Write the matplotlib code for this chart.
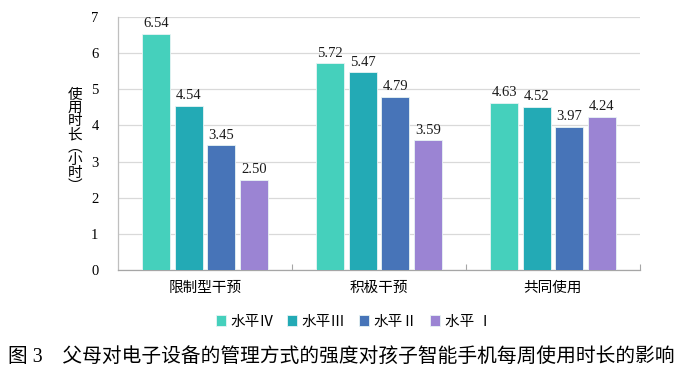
import matplotlib
matplotlib.use("Agg")
import matplotlib.pyplot as plt
import numpy as np

plt.rcParams['font.family'] = ['Liberation Serif', 'Noto Sans CJK SC', 'DejaVu Sans']

categories = ['限制型干预', '积极干预', '共同使用']
series_names = ['水平Ⅳ', '水平Ⅲ', '水平Ⅱ', '水平 Ⅰ']
values = [
    [6.54, 5.72, 4.63],
    [4.54, 5.47, 4.52],
    [3.45, 4.79, 3.97],
    [2.50, 3.59, 4.24],
]
colors = ['#45D0BC', '#23AAB5', '#4774B8', '#9B84D3']
yticks = [0, 1, 2, 3, 4, 5, 6, 7]
ylabel = '使用时长︵小时︶'
caption = '图 3　父母对电子设备的管理方式的强度对孩子智能手机每周使用时长的影响'

fig = plt.figure(figsize=(6.91, 3.75), dpi=100)
ax = fig.add_axes([118/691, 1 - 270/375, 522/691, 253/375])

x = np.arange(len(categories))
bw = 0.16
pitch = 0.187
for i, (name, vals) in enumerate(zip(series_names, values)):
    pos = x + (i - 1.5) * pitch
    bars = ax.bar(pos, vals, width=bw, color=colors[i], edgecolor='#E8F4F4',
                  linewidth=0.6, label=name, zorder=3)
    for b, v in zip(bars, vals):
        ax.text(b.get_x() + b.get_width() / 2, v + 0.1, f'{v:.2f}',
                ha='center', va='bottom', fontsize=10.5, color='#1a1a1a')

ax.set_xlim(-0.5, 2.5)
ax.set_ylim(0, 7)
ax.set_yticks(yticks)
ax.set_yticklabels([str(t) for t in yticks], fontsize=10.5)
ax.yaxis.grid(True, color='#D9D9D9', linewidth=0.9, zorder=0)
ax.set_axisbelow(True)
ax.tick_params(axis='y', length=0, pad=14)
ax.set_xticks([0.5, 1.5, 2.5], minor=False)
ax.set_xticklabels([])
ax.tick_params(axis='x', direction='in', length=4, color='#A6A6A6')
for i, c in enumerate(categories):
    ax.text(i, -0.32, c, ha='center', va='top', fontsize=10.5, transform=ax.transData)
for s in ['top', 'right']:
    ax.spines[s].set_visible(False)
ax.spines['left'].set_color('#BFBFBF')
ax.spines['bottom'].set_color('#A6A6A6')
ax.spines['left'].set_linewidth(0.9)
ax.spines['bottom'].set_linewidth(0.9)

fig.text(75/691, 1 - 141/375, '\n'.join(ylabel), ha='center', va='center',
         fontsize=10.5, linespacing=1.0)

leg = fig.legend(loc='center', bbox_to_anchor=(354/691, 1 - 322/375), ncol=4,
                 frameon=False, fontsize=10.5, handlelength=0.7, handleheight=0.7,
                 handletextpad=0.3, columnspacing=0.9)

fig.text(8/691, 1 - 357/375, caption, ha='left', va='center', fontsize=14.2)

fig.savefig('out.png', dpi=100)
